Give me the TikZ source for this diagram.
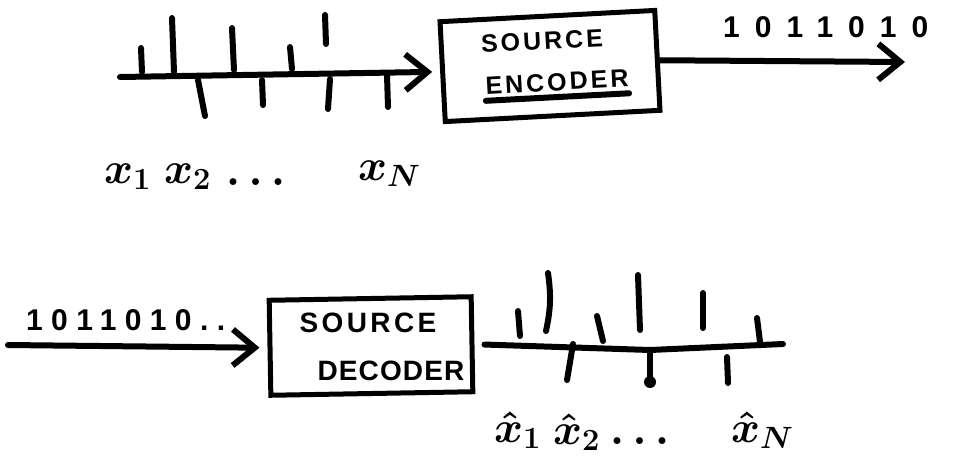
\RequirePackage{fix-cm}
\documentclass[tikz,border=0pt]{standalone}
\usepackage{fontspec}
\setmainfont{Liberation Sans}
\usetikzlibrary{arrows.meta}
\begin{document}
\begin{tikzpicture}[x=1pt,y=-1pt,
  ink/.style={line width=6pt, line cap=round, line join=round},
  arr/.style={ink, -{Straight Barb[length=22pt,width=36pt,line width=6pt]}},
  box/.style={draw, line width=5pt, inner sep=0pt},
  boxtext/.style={inner sep=0pt, font=\fontsize{25}{25}\selectfont\bfseries\addfontfeature{LetterSpace=12}},
  bits/.style={inner sep=0pt, anchor=west},
  lab/.style={inner sep=0pt, anchor=base west, font=\fontsize{44}{44}\selectfont\boldmath}]
\useasboundingbox (0,0) rectangle (953,467);

% ---------- encoder ----------
\node[box, minimum width=215pt, minimum height=100pt, rotate=3] (enc) at (550,66) {};
\node[boxtext, rotate=3] (enc1) at (542,41) {SOURCE};
\node[boxtext, rotate=3] (enc2) at (557,82) {ENCODER};
\draw[ink] ([yshift=-6pt]enc2.south west) -- ([yshift=-6pt]enc2.south east);

\coordinate (a0) at (120,77);
\draw[arr, shorten >=8pt] (a0) -- (enc.west);
\coordinate (out) at (905,62);
\draw[arr] (enc.east) -- (out);
\node[bits, font=\fontsize{30}{30}\selectfont\bfseries\addfontfeature{LetterSpace=50}] (bitsA) at (723,27) {1011010};

% top ticks
\draw[ink] (141,48) -- (142,72);
\draw[ink] (172,18) -- (174,72);
\draw[ink] (232,28) -- (234,70);
\draw[ink] (290,47) -- (292,69);
\draw[ink] (325,15) -- (326,44);
\draw[ink] (198,80) -- (205,116);
\draw[ink] (262,80) -- (263,105);
\draw[ink] (330,79) -- (328,109);
\draw[ink] (387,75) -- (388,107);

% top labels
\node[lab] (x1) at (104,183) {$x_1$};
\node[lab] (x2) at (164,183) {$x_2$};
\node[lab] (xd) at (226,185) {$\ldots$};
\node[lab] (xN) at (358,180) {$x_N$};

% ---------- decoder ----------
\node[box, minimum width=202pt, minimum height=95pt, rotate=1] (dec) at (371,346) {};
\node[boxtext, font=\fontsize{28}{28}\selectfont\bfseries\addfontfeature{LetterSpace=12}] (dec1) at (368,323) {SOURCE};
\node[boxtext, font=\fontsize{28}{28}\selectfont\bfseries\addfontfeature{LetterSpace=4}] (dec2) at (391,371) {DECODER};

\coordinate (in) at (8,345);
\draw[arr, shorten >=8pt] (in) -- (dec.west);
\node[bits, font=\fontsize{30}{30}\selectfont\bfseries\addfontfeature{LetterSpace=28}] (bitsB) at (26,320) {1011010..};

\coordinate (bm) at (650,350);
\coordinate (b1) at (783,344);
\draw[ink, shorten <=10pt] (dec.east) -- (bm) -- (b1);

% bottom ticks
\draw[ink] (518,311) -- (520,336);
\draw[ink] (548,273) to[bend left=10] (546,331);
\draw[ink] (597,316) -- (603,341);
\draw[ink] (638,275) -- (640,330);
\draw[ink] (703,293) -- (703,328);
\draw[ink] (757,318) -- (760,342);
\draw[ink] (573,344) -- (567,380);
\draw[ink] (650,352) -- (650,380);
\fill (650,382) circle (6pt);
\draw[ink] (727,357) -- (728,383);

% bottom labels
\node[lab] (y1) at (494,442) {$\hat{x}_1$};
\node[lab] (y2) at (553,444) {$\hat{x}_2$};
\node[lab] (yd) at (610,444) {$\ldots$};
\node[lab] (yN) at (731,442) {$\hat{x}_N$};
\end{tikzpicture}
\end{document}
